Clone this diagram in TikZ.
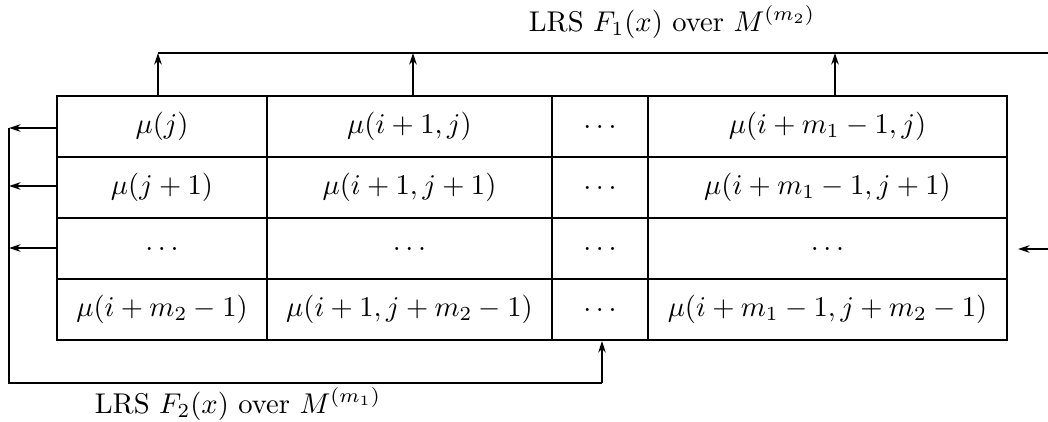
\documentclass[tikz,border=0pt]{standalone}
\usetikzlibrary{arrows.meta,calc}
\begin{document}
\begin{tikzpicture}[x=0.35pt,y=-0.35pt,
  cellbox/.style={draw,line width=0.8pt,inner sep=0pt,anchor=center,minimum height=21.35pt},
  cA/.style={cellbox,minimum width=73.5pt},
  cB/.style={cellbox,minimum width=99.75pt},
  cC/.style={cellbox,minimum width=33.6pt},
  cD/.style={cellbox,minimum width=125.65pt},
  arr/.style={-{Stealth[length=4pt,width=2.6pt]},line width=0.8pt},
  wire/.style={line width=0.8pt},
  lbl/.style={inner sep=0pt}]
\useasboundingbox (0,0) rectangle (1048,422);
% row 1
\node[cA] (a1) at (162,126.5) {$\mu(j)$};
\node[cB] (b1) at (409.5,126.5) {$\mu(i+1,j)$};
\node[cC] (c1) at (600,126.5) {$\ldots$};
\node[cD] (d1) at (827.5,126.5) {$\mu(i+m_1-1,j)$};
% row 2
\node[cA] (a2) at (162,187.5) {$\mu(j+1)$};
\node[cB] (b2) at (409.5,187.5) {$\mu(i+1,j+1)$};
\node[cC] (c2) at (600,187.5) {$\ldots$};
\node[cD] (d2) at (827.5,187.5) {$\mu(i+m_1-1,j+1)$};
% row 3
\node[cA] (a3) at (162,248.5) {$\ldots$};
\node[cB] (b3) at (409.5,248.5) {$\ldots$};
\node[cC] (c3) at (600,248.5) {$\ldots$};
\node[cD] (d3) at (827.5,248.5) {$\ldots$};
% row 4
\node[cA] (a4) at (162,309.5) {$\mu(i+m_2-1)$};
\node[cB] (b4) at (409.5,309.5) {$\mu(i+1,j+m_2-1)$};
\node[cC] (c4) at (600,309.5) {$\ldots$};
\node[cD] (d4) at (827.5,309.5) {$\mu(i+m_1-1,j+m_2-1)$};
% labels
\node[lbl] (top) at (672,22) {LRS $F_1(x)$ over $M^{(m_2)}$};
\node[lbl] (bot) at (238,404) {LRS $F_2(x)$ over $M^{(m_1)}$};
% top feedback line
\coordinate (tl) at (158,53);
\coordinate (tr) at (1048,53);
\draw[wire] (tl) -- (tr);
\draw[arr] (a1.north -| tl) -- (tl);
\draw[arr] (b1.north -| 413,0) -- (413,53);
\draw[arr] (d1.north -| 835,0) -- (835,53);
% right input
\coordinate (rin) at (1048,249);
\coordinate (rend) at (1018,249);
\draw[arr] (rin) -- (rend);
% left feedback
\coordinate (lt) at (9,128);
\coordinate (lb) at (9,383);
\coordinate (bb) at (602,383);
\draw[arr] (a1.west |- 0,128) -- (lt);
\draw[arr] (a2.west |- 0,186) -- (9,186);
\draw[arr] (a3.west |- 0,248) -- (9,248);
\draw[wire] (lt) -- (lb) -- (bb);
\draw[arr] (bb) -- (c4.south -| bb);
\end{tikzpicture}
\end{document}
